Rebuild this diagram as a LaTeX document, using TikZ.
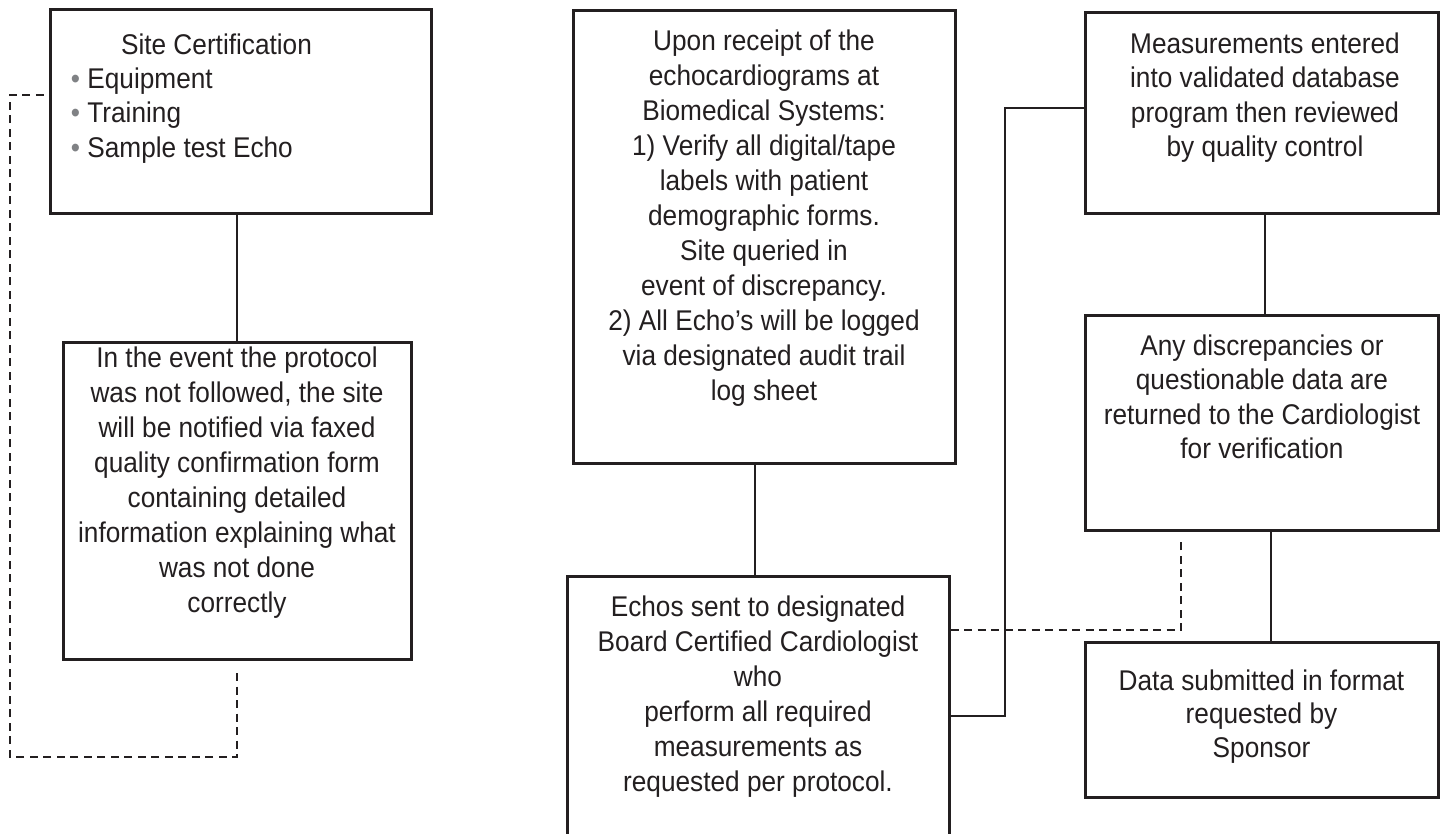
\documentclass[tikz,border=0pt]{standalone}
\usepackage{fontspec}
\setmainfont{Liberation Sans}[FakeStretch=0.92]
\definecolor{ink}{HTML}{231F20}
\definecolor{bulletgray}{HTML}{808285}
\begin{document}
\begin{tikzpicture}[x=1pt,y=-1pt,
  box/.style={draw=ink, line width=3pt, inner sep=0pt, rectangle},
  txt/.style={text=ink, align=center, inner sep=0pt, anchor=north, font=\fontsize{28.5}{35}\selectfont},
  link/.style={draw=ink, line width=2.8pt},
  dlink/.style={link, dash pattern=on 8pt off 5.5pt}]
\useasboundingbox (0,0) rectangle (1443,833);
\clip (0,0) rectangle (1443,833);

% boxes
\node[box, minimum width=381pt, minimum height=204pt] (site) at (240.5,111) {};
\node[box, minimum width=348pt, minimum height=317pt] (prot) at (237,500.5) {};
\node[box, minimum width=382pt, minimum height=453pt] (recv) at (764,236.5) {};
\node[box, minimum width=382pt, minimum height=274pt] (echo) at (758,713) {};
\node[box, minimum width=353pt, minimum height=201pt] (meas) at (1261.5,112.5) {};
\node[box, minimum width=353pt, minimum height=215pt] (disc) at (1261.5,422.5) {};
\node[box, minimum width=353pt, minimum height=155pt] (data) at (1261.5,719.5) {};

% texts
\node[txt, anchor=base] (siteT) at (216.5,54) {Site Certification};
\node[txt, anchor=north west, align=left, font=\fontsize{28.5}{34.5}\selectfont] (siteL) at (70.7,67.6)
  {{\color{bulletgray}•} Equipment\\{\color{bulletgray}•} Training\\{\color{bulletgray}•} Sample test Echo};
\node[txt] (protT) at (237,346.6) {In the event the protocol\\was not followed, the site\\will be notified via faxed\\quality confirmation form\\containing detailed\\information explaining what\\was not done\\correctly};
\node[txt] (recvT) at (764,29.6) {Upon receipt of the\\echocardiograms at\\Biomedical Systems:\\1) Verify all digital/tape\\labels with patient\\demographic forms.\\Site queried in\\event of discrepancy.\\2) All Echo’s will be logged\\via designated audit trail\\log sheet};
\node[txt] (echoT) at (758,595.6) {Echos sent to designated\\Board Certified Cardiologist\\who\\perform all required\\measurements as\\requested per protocol.};
\node[txt, font=\fontsize{28.5}{34.3}\selectfont] (measT) at (1265,32.6) {Measurements entered\\into validated database\\program then reviewed\\by quality control};
\node[txt, font=\fontsize{28.5}{34.3}\selectfont] (discT) at (1262,334.6) {Any discrepancies or\\questionable data are\\returned to the Cardiologist\\for verification};
\node[txt, font=\fontsize{28.5}{33.5}\selectfont] (dataT) at (1261.5,669.6) {Data submitted in format\\requested by\\Sponsor};

% helper coordinates
\coordinate (fbA) at (237,673);
\coordinate (fbB) at (10,757);
\coordinate (y95) at (0,95);
\coordinate (x755) at (755,0);
\coordinate (y716) at (0,716);
\coordinate (x1005) at (1005,108);
\coordinate (y108) at (0,108);
\coordinate (y630) at (0,630);
\coordinate (d6) at (1181,537);
\coordinate (x1265) at (1265,0);
\coordinate (x1271) at (1271,0);

% connectors
\draw[link] (site.south -| prot.north) -- (prot.north);
\draw[dlink] (fbA) |- (fbB) |- (site.west |- y95);
\draw[link] (recv.south -| x755) -- (echo.north -| x755);
\draw[link] (echo.east |- y716) -| (x1005) -- (meas.west |- y108);
\draw[dlink] (echo.east |- y630) -| (d6);
\draw[link] (meas.south -| x1265) -- (disc.north -| x1265);
\draw[link] (disc.south -| x1271) -- (data.north -| x1271);
\end{tikzpicture}
\end{document}
